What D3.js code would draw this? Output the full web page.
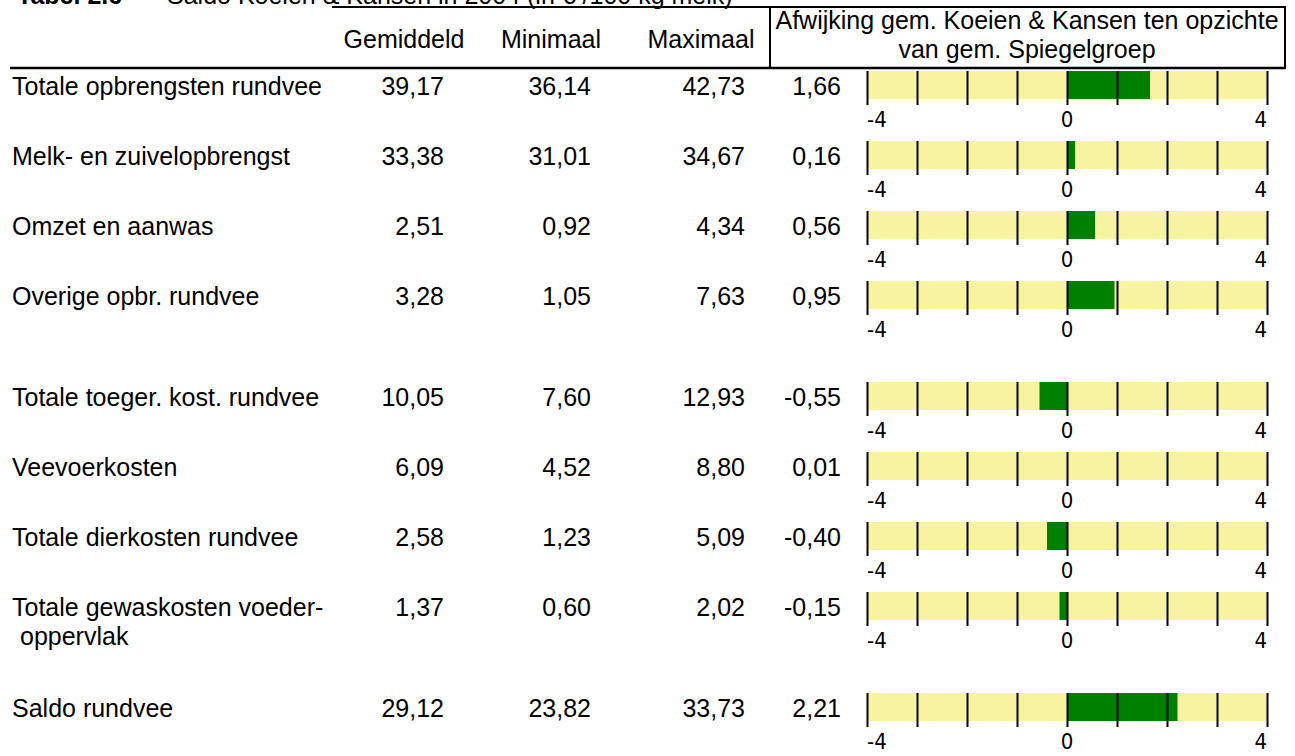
<!DOCTYPE html>
<html>
<head>
<meta charset="utf-8">
<script src="https://cdn.jsdelivr.net/npm/d3@7"></script>
<style>
    body { margin: 0; background: #fff; }
    text { font-family: "Liberation Sans", Arial, sans-serif; fill: #000; }
    .tick-label { font-family: "Liberation Sans Narrow", "DejaVu Sans Condensed", sans-serif; font-size: 22px; }
</style>
</head>
<body>
<div id="chart-area"></div>
<script>
var width = 1295;
var height = 756;

// table data
var labels = [
    ["Totale opbrengsten rundvee"],
    ["Melk- en zuivelopbrengst"],
    ["Omzet en aanwas"],
    ["Overige opbr. rundvee"],
    ["Totale toeger. kost. rundvee"],
    ["Veevoerkosten"],
    ["Totale dierkosten rundvee"],
    ["Totale gewaskosten voeder-", "oppervlak"],
    ["Saldo rundvee"]
];
var groups = [0, 0, 0, 0, 1, 1, 1, 1, 2];
var gemiddeld = [39.17, 33.38, 2.51, 3.28, 10.05, 6.09, 2.58, 1.37, 29.12];
var minimaal = [36.14, 31.01, 0.92, 1.05, 7.60, 4.52, 1.23, 0.60, 23.82];
var maximaal = [42.73, 34.67, 4.34, 7.63, 12.93, 8.80, 5.09, 2.02, 33.73];
var afwijking = [1.66, 0.16, 0.56, 0.95, -0.55, 0.01, -0.40, -0.15, 2.21];

var columns = ["Gemiddeld", "Minimaal", "Maximaal"];
var headerRight = ["Afwijking gem. Koeien & Kansen ten opzichte", "van gem. Spiegelgroep"];
var tickLabels = [-4, 0, 4];

// dutch decimal comma, plain hyphen as minus
var fmt = function(v) { return d3.format(".2f")(v).replace(".", ",").replace("\u2212", "-"); };

var svg = d3.select("#chart-area").append("svg")
    .attr("id", "svg")
    .attr("width", width)
    .attr("height", height);

var rowH = 70;
var groupGap = 31;
var firstTop = 71;
var barH = 28;

function rowTop(i) {
    return firstTop + i * rowH + groups[i] * groupGap;
}

var scaleX = d3.scaleLinear()
    .domain([-4, 4])
    .range([867, 1267]);

// title (mostly cut off at the top, like the reference)
var title = svg.append("text")
    .attr("x", 17)
    .attr("y", 4)
    .style("font-size", "25px");
title.append("tspan").text("Tabel 2.6").style("font-weight", "bold");
title.append("tspan").attr("x", 167).text("Saldo Koeien & Kansen in 2004 (in € /100 kg melk)");

// header lines
svg.append("line")
    .attr("x1", 332).attr("x2", 1285)
    .attr("y1", 7).attr("y2", 7)
    .attr("stroke", "black").attr("stroke-width", 2);

svg.append("rect")
    .attr("x", 770).attr("y", 7)
    .attr("width", 515).attr("height", 61)
    .attr("fill", "none")
    .attr("stroke", "black").attr("stroke-width", 2);

svg.append("line")
    .attr("x1", 10).attr("x2", 1285)
    .attr("y1", 68).attr("y2", 68)
    .attr("stroke", "black").attr("stroke-width", 2.5);

// column headers
var headerX = [404, 551, 701];
svg.selectAll(".colhead")
    .data(columns)
    .enter()
    .append("text")
    .attr("class", "colhead")
    .attr("x", function(d, i) { return headerX[i]; })
    .attr("y", 48)
    .attr("text-anchor", "middle")
    .style("font-size", "25px")
    .text(function(d) { return d; });

svg.selectAll(".righthead")
    .data(headerRight)
    .enter()
    .append("text")
    .attr("class", "righthead")
    .attr("x", 1027)
    .attr("y", function(d, i) { return 29 + i * 29; })
    .attr("text-anchor", "middle")
    .style("font-size", "25px")
    .text(function(d) { return d; });

// rows
var rows = svg.selectAll(".row")
    .data(labels)
    .enter()
    .append("g")
    .attr("class", "row")
    .attr("transform", function(d, i) { return "translate(0," + rowTop(i) + ")"; });

rows.each(function(d, i) {
    var g = d3.select(this);

    var lbl = g.append("text")
        .attr("y", 24)
        .style("font-size", "25px");
    d.forEach(function(line, k) {
        lbl.append("tspan")
            .attr("x", k == 0 ? 12 : 20)
            .attr("dy", k == 0 ? 0 : 29)
            .text(line);
    });

    var nums = [gemiddeld[i], minimaal[i], maximaal[i], afwijking[i]];
    var numX = [444, 591, 745, 841];
    nums.forEach(function(v, k) {
        g.append("text")
            .attr("x", numX[k])
            .attr("y", 24)
            .attr("text-anchor", "end")
            .style("font-size", "25px")
            .text(fmt(v));
    });

    // yellow background bar
    g.append("rect")
        .attr("x", scaleX(-4))
        .attr("y", 0)
        .attr("width", scaleX(4) - scaleX(-4))
        .attr("height", barH)
        .attr("fill", "#f7f3a1");

    // green deviation bar
    var v = afwijking[i];
    g.append("rect")
        .attr("x", scaleX(Math.min(0, v)))
        .attr("y", 0)
        .attr("width", Math.abs(scaleX(v) - scaleX(0)))
        .attr("height", barH)
        .attr("fill", "#008000");

    // tick marks
    var axis = d3.axisBottom(scaleX)
        .tickValues(d3.range(-4, 5, 1))
        .tickSize(barH + 6)
        .tickFormat("");

    var ax = g.append("g").call(axis);
    ax.select(".domain").remove();
    ax.selectAll(".tick line")
        .attr("stroke", "black")
        .attr("stroke-width", 2);

    // tick labels -4, 0, 4
    g.selectAll(".tick-label")
        .data(tickLabels)
        .enter()
        .append("text")
        .attr("class", "tick-label")
        .attr("x", function(t) { return scaleX(t); })
        .attr("y", 56)
        .attr("text-anchor", function(t) { return t < 0 ? "start" : (t > 0 ? "end" : "middle"); })
        .text(function(t) { return t; });
});
</script>
</body>
</html>
